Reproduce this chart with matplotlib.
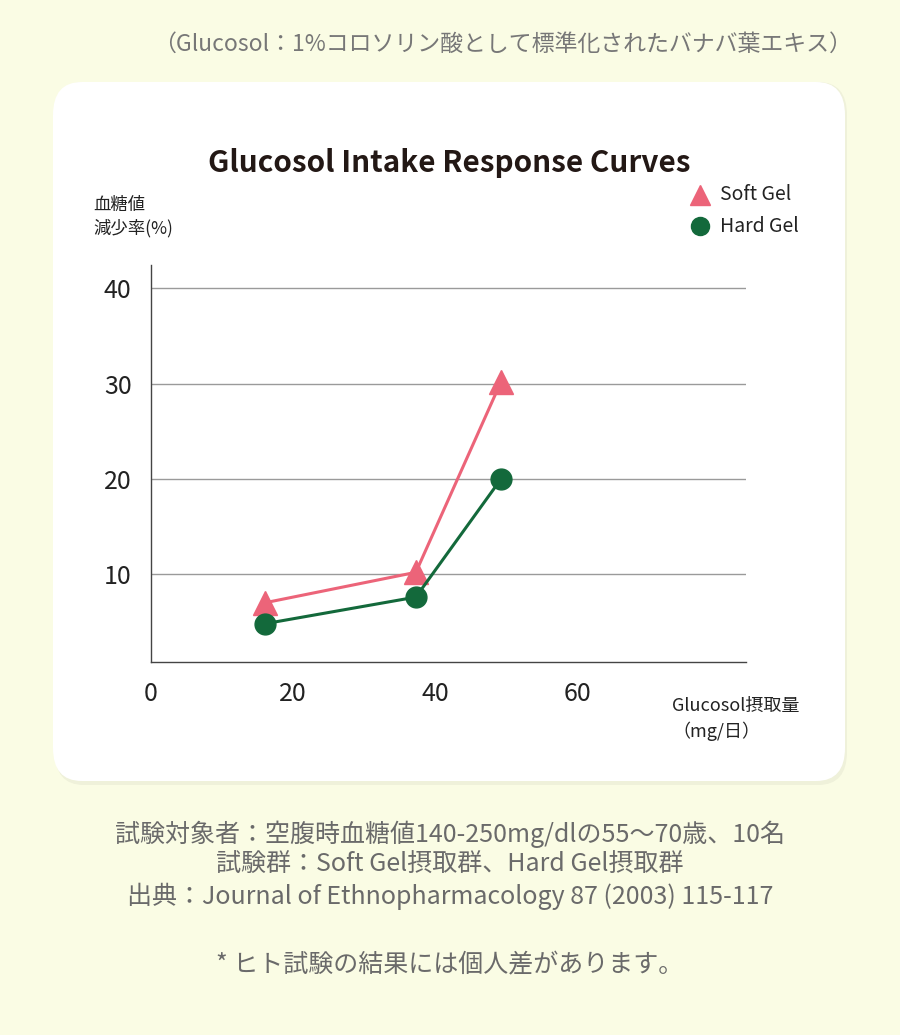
import matplotlib.pyplot as plt
from matplotlib.patches import FancyBboxPatch
from matplotlib.lines import Line2D

plt.rcParams['font.family'] = ['Noto Sans CJK JP', 'DejaVu Sans']

# データ
doses = [16, 37.3, 49.3]
soft_gel = [7.0, 10.2, 30.2]
hard_gel = [4.8, 7.6, 20.0]
y_ticks = [10, 20, 30, 40]
x_ticks = [0, 20, 40, 60]

pink = '#EC6479'
green = '#13693B'
W, H = 900, 1035

fig = plt.figure(figsize=(9, 10.35), dpi=100)
fig.patch.set_facecolor('#FAFCE4')

# カードの影と白背景
shadow = FancyBboxPatch((55 / W, 1 - 785 / H), 792 / W, 703 / H,
                        boxstyle='round,pad=0,rounding_size=0.032',
                        transform=fig.transFigure, facecolor='#EFF1DA',
                        edgecolor='none', zorder=0)
card = FancyBboxPatch((53 / W, 1 - 781 / H), 792 / W, 699 / H,
                      boxstyle='round,pad=0,rounding_size=0.032',
                      transform=fig.transFigure, facecolor='white',
                      edgecolor='none', zorder=1)
fig.patches.extend([shadow, card])

ax = fig.add_axes([151 / W, 1 - 662 / H, 595 / W, 397 / H])
ax.set_facecolor('none')
ax.set_zorder(2)

ax.plot(doses, soft_gel, color=pink, lw=2.2, marker='^', ms=17, zorder=4)
ax.plot(doses, hard_gel, color=green, lw=2.2, marker='o', ms=15, zorder=4)

ax.set_xlim(0, 83.8)
ax.set_ylim(0.79, 42.45)
ax.set_yticks(y_ticks)
ax.set_xticks(x_ticks)
for y in y_ticks:
    ax.axhline(y, color='#9A9A9A', lw=1, zorder=1)
for s in ['top', 'right']:
    ax.spines[s].set_visible(False)
for s in ['left', 'bottom']:
    ax.spines[s].set_color('#444444')
    ax.spines[s].set_linewidth(1)
ax.tick_params(length=0, labelsize=18, colors='#222222')
ax.tick_params(axis='y', pad=14)
ax.tick_params(axis='x', pad=14)

# テキスト
fig.text(502 / W, 1 - 44 / H, '（Glucosol：1%コロソリン酸として標準化されたバナバ葉エキス）',
         ha='center', va='center', fontsize=16.5, color='#777777')
fig.text(449 / W, 1 - 163 / H, 'Glucosol Intake Response Curves',
         ha='center', va='center', fontsize=21.4, fontweight='bold', color='#231815', zorder=3)
fig.text(93 / W, 1 - 205 / H, '血糖値', ha='left', va='center', fontsize=12.5, color='#222222', zorder=3)
fig.text(93 / W, 1 - 228 / H, '減少率(%)', ha='left', va='center', fontsize=12.5, color='#222222', zorder=3)

# 凡例
fig.add_artist(Line2D([700 / W], [1 - 195 / H], marker='^', ms=14, color=pink,
                      transform=fig.transFigure, zorder=3))
fig.add_artist(Line2D([700 / W], [1 - 226 / H], marker='o', ms=13, color=green,
                      transform=fig.transFigure, zorder=3))
fig.text(720 / W, 1 - 195 / H, 'Soft Gel', ha='left', va='center', fontsize=14, color='#222222', zorder=3)
fig.text(720 / W, 1 - 226 / H, 'Hard Gel', ha='left', va='center', fontsize=14, color='#222222', zorder=3)

fig.text(672 / W, 1 - 706 / H, 'Glucosol摂取量', ha='left', va='center', fontsize=13, color='#222222', zorder=3)
fig.text(672 / W, 1 - 731 / H, '（mg/日）', ha='left', va='center', fontsize=13, color='#222222', zorder=3)

notes = ['試験対象者：空腹時血糖値140-250mg/dlの55～70歳、10名',
         '試験群：Soft Gel摂取群、Hard Gel摂取群',
         '出典：Journal of Ethnopharmacology 87 (2003) 115-117']
for i, line in enumerate(notes):
    fig.text(450 / W, 1 - (834 + 31 * i) / H, line, ha='center', va='center',
             fontsize=18, color='#6A6A6A')
fig.text(450 / W, 1 - 965 / H, '* ヒト試験の結果には個人差があります。', ha='center', va='center',
         fontsize=18, color='#6A6A6A')

fig.savefig('out.png', dpi=100, facecolor=fig.get_facecolor())
